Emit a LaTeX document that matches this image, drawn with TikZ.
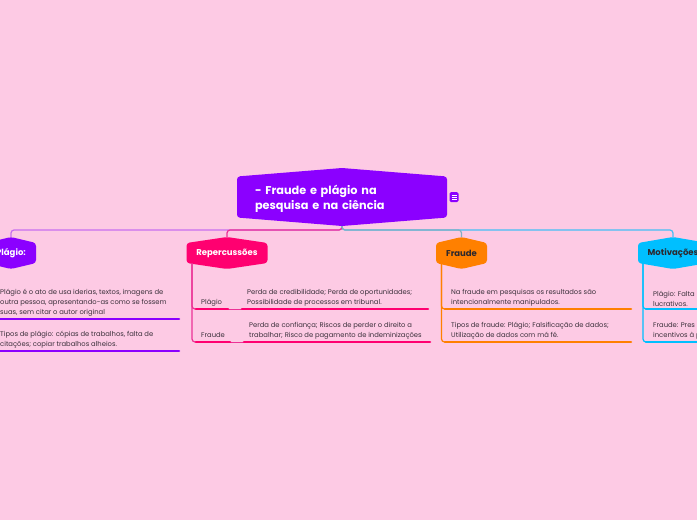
\documentclass[tikz,border=0pt]{standalone}
\usepackage{fontspec}
\setmainfont{Poppins}
\usetikzlibrary{calc,positioning}

\definecolor{bgpink}{RGB}{253,202,228}
\definecolor{violetc}{RGB}{139,0,255}
\definecolor{lavc}{RGB}{200,110,240}
\definecolor{pinkc}{RGB}{255,0,112}
\definecolor{pinkline}{RGB}{236,50,150}
\definecolor{orangec}{RGB}{255,128,0}
\definecolor{greyline}{RGB}{130,175,195}
\definecolor{bluec}{RGB}{0,191,255}
\definecolor{blueline}{RGB}{70,190,245}
\definecolor{inkc}{RGB}{58,48,58}
\definecolor{darkc}{RGB}{45,40,45}

% hexagon with top and bottom peak: centre, half width, half height, peak, colour
\newcommand{\hexfill}[5]{%
  \fill[#5, rounded corners=3pt] ($(#1)+(-#2,-#3)$) -- ($(#1)+(0,-#3-#4)$) -- ($(#1)+(#2,-#3)$)
    -- ($(#1)+(#2,#3)$) -- ($(#1)+(0,#3+#4)$) -- ($(#1)+(-#2,#3)$) -- cycle;
  \coordinate (#1-top) at ($(#1)+(0,-#3-#4)$);
  \coordinate (#1-bot) at ($(#1)+(0,#3+#4)$);
}

\begin{document}
\begin{tikzpicture}[x=1pt,y=-1pt,
  title/.style={text=white, font=\fontsize{11.3}{15}\selectfont\bfseries, text width=174pt, align=left, inner sep=0pt},
  branch/.style={font=\fontsize{8.5}{10}\selectfont\bfseries, inner sep=0pt},
  item/.style={anchor=south west, font=\fontsize{6.8}{9.7}\selectfont, text=inkc, align=left,
    inner ysep=2.6pt},
  label/.style={item, text depth=1.6pt},
  under/.style={line width=2.6pt, line cap=round},
  link/.style={line width=1.2pt, rounded corners=3pt},
]
\useasboundingbox (0,0) rectangle (697,520);
\fill[bgpink] (0,0) rectangle (697,520);
\clip (0,0) rectangle (697,520);

% central topic
\coordinate (root) at (342,197);
\hexfill{root}{105}{20.5}{8.5}{violetc}
\node[title] (title) at (342,199) {- Fraude e plágio na\\pesquisa e na ciência};
\node[fill=violetc, rounded corners=1.5pt, minimum width=9pt, minimum height=10pt, inner sep=0pt] (note) at (454,197) {};
\foreach \dy in {-2.2,0,2.2}
  \draw[white, line width=0.6pt] ($(note.center)+(-2.5,\dy)$) -- ++(5,0);

% branches
\coordinate (pl) at (11,253);
\coordinate (rep) at (227,253);
\coordinate (fr) at (461.5,253);
\coordinate (mot) at (673,253);

\hexfill{pl}{25}{10}{6}{violetc}
\hexfill{rep}{40.5}{10}{6}{pinkc}
\hexfill{fr}{25.5}{10}{6}{orangec}
\hexfill{mot}{35}{10}{6}{bluec}

\draw[link, lavc] (root-bot) -- ++(0,4) -| (pl-top);
\draw[link, pinkline] (root-bot) -- ++(0,4) -| (rep-top);
\draw[link, blueline] (root-bot) -- ++(0,4) -| (mot-top);
\draw[link, greyline] (root-bot) -- ++(0,4) -| (fr-top);

\node[branch, text=white] (pl-t) at (pl) {Plágio:};
\node[branch, text=white] (rep-t) at (rep) {Repercussões};
\node[branch, text=darkc] (fr-t) at (fr) {Fraude};
\node[branch, text=darkc] (mot-t) at (mot) {Motivações};

% Plágio
\node[item, inner xsep=8pt] (p1) at (-8,319) {Plágio é o ato de usa iderias, textos, imagens de\\outra pessoa, apresentando-as como se fossem\\suas, sem citar o autor original};
\node[item, inner xsep=8pt] (p2) at (-8,351) {Tipos de plágio: cópias de trabalhos, falta de\\citações; copiar trabalhos alheios.};
\coordinate (pl-stem) at ($(pl)+(-22,10)$);
\draw[link, violetc] (pl-stem) |- (p1.south west);
\draw[link, violetc] (pl-stem) |- (p2.south west);
\foreach \n in {p1,p2}
  \draw[under, violetc] (\n.south west) -- ++(187,0);

% Repercussões
\node[label, inner xsep=5pt] (rp) at (196,309) {Plágio};
\node[item, inner xsep=5pt] (rp-d) at (242,309) {Perda de credibilidade; Perda de oportunidades;\\Possibilidade de processos em tribunal.};
\node[label, inner xsep=5pt] (rf) at (196,342) {Fraude};
\node[item, inner xsep=5pt] (rf-d) at (244,342) {Perda de confiança; Riscos de perder o direito a\\trabalhar; Risco de pagamento de indeminizações};
\coordinate (rep-stem) at ($(rep)+(-35,10)$);
\draw[link, pinkline] (rep-stem) |- (rp.south west);
\draw[link, pinkline] (rep-stem) |- (rf.south west);
\draw[line width=0.8pt, pinkline] ($(rp.south west)+(32,0)$) -- (rp-d.south west);
\draw[line width=0.8pt, pinkline] ($(rf.south west)+(34,0)$) -- (rf-d.south west);
\foreach \n/\l in {rp/32,rp-d/186,rf/34,rf-d/186}
  \draw[under, pinkc] (\n.south west) -- ++(\l,0);

% Fraude
\node[item, inner xsep=6pt] (f1) at (445,309) {Na fraude em pesquisas os resultados são\\intencionalmente manipulados.};
\node[item, inner xsep=6pt] (f2) at (445,342) {Tipos de fraude: Plágio; Falsificação de dados;\\Utilização de dados com má fé.};
\coordinate (fr-stem) at ($(fr)+(-20,10)$);
\draw[link, orangec] (fr-stem) |- (f1.south west);
\draw[link, orangec] (fr-stem) |- (f2.south west);
\foreach \n in {f1,f2}
  \draw[under, orangec] (\n.south west) -- ++(186,0);

% Motivações
\node[item, inner xsep=7pt] (m1) at (646,309) {Plágio: Falta\\lucrativos.};
\node[item, inner xsep=7pt] (m2) at (646,342) {Fraude: Pres\\incentivos à p};
\coordinate (mot-stem) at ($(mot)+(-30,10)$);
\draw[link, bluec] (mot-stem) |- (m1.south west);
\draw[link, bluec] (mot-stem) |- (m2.south west);
\foreach \n in {m1,m2}
  \draw[under, bluec] (\n.south west) -- ++(80,0);
\end{tikzpicture}
\end{document}
